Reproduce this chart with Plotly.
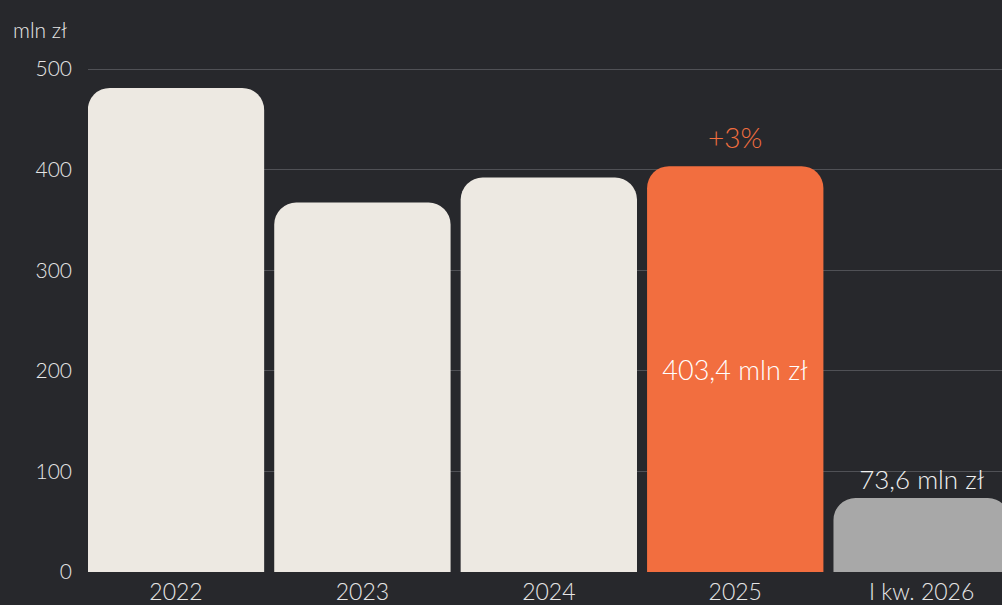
import plotly.graph_objects as go

categories = ["2022", "2023", "2024", "2025", "I kw. 2026"]
values = [481.2, 367.3, 392.1, 403.4, 73.6]
bar_labels = ["", "", "", "403,4 mln zł", "73,6 mln zł"]
growth_label = "+3%"
unit_label = "mln zł"
y_ticks = [0, 100, 200, 300, 400, 500]

BG = "#27282c"
colors = ["#ede9e2", "#ede9e2", "#ede9e2", "#f26e3f", "#a8a8a8"]
positions = ["none", "none", "none", "inside", "outside"]
FONT = "Lato, Open Sans, sans-serif"
W = 300

fig = go.Figure(go.Bar(
    x=categories, y=values,
    marker=dict(color=colors, line=dict(width=0), cornerradius=22),
    text=bar_labels, textposition=positions,
    insidetextanchor="middle",
    textfont=dict(family=FONT, size=27, color="#ffffff", weight=W),
    outsidetextfont=dict(family=FONT, size=26, color="#f0f0f0", weight=W),
    cliponaxis=False,
    hoverinfo="skip",
))

fig.add_annotation(x=3, y=values[3], yref="y", xref="x",
                   text=growth_label, showarrow=False, yanchor="bottom", yshift=10,
                   font=dict(family=FONT, size=28, color="#f26e3f", weight=W))
fig.add_annotation(x=-77/914, xref="paper", y=1 + 39/506, yref="paper",
                   text=unit_label, showarrow=False, xanchor="left", yanchor="middle",
                   font=dict(family=FONT, size=21, color="#e6e6e6", weight=W))

fig.update_layout(
    width=1002, height=605,
    margin=dict(l=88, r=0, t=68, b=31),
    paper_bgcolor=BG, plot_bgcolor=BG,
    bargap=0.054,
    showlegend=False,
    font=dict(family=FONT, color="#e6e6e6"),
)
fig.update_xaxes(range=[-0.472, 4.431], showgrid=False, showline=False, ticks="",
                 tickfont=dict(family=FONT, size=23, color="#e6e6e6", weight=W), ticklabelstandoff=4)
fig.update_yaxes(range=[0, 501], tickvals=y_ticks, showgrid=True, gridcolor="#505156",
                 gridwidth=1, zeroline=False, showline=False, ticks="",
                 tickfont=dict(family=FONT, size=21, color="#e6e6e6", weight=W), ticklabelstandoff=15)

fig.write_html("out.html", config={"displayModeBar": False},
               post_script="document.body.style.margin='0';document.body.style.background='%s';" % BG)
